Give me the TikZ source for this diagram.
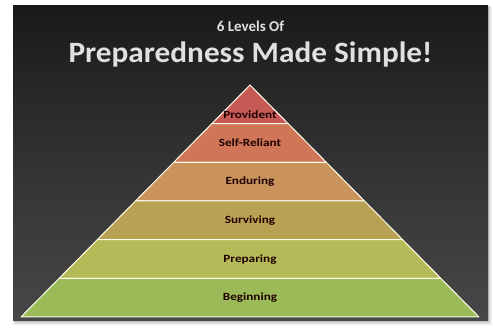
\documentclass[tikz,border=0pt]{standalone}
\usepackage{fontspec}
\setmainfont{Carlito}
\begin{document}
\begin{tikzpicture}[x=1pt,y=-1pt,
  band/.style={draw=white!92!yellow, line width=1pt, line join=round},
  lbl/.style={font=\bfseries\fontsize{11}{12}\selectfont, text=black!88!red, inner sep=0pt},
  ttl/.style={text=white!88!black, inner sep=0pt}]
\useasboundingbox (0,0) rectangle (493,331);
\fill[white] (0,0) rectangle (493,331);
% shadow
\foreach \i/\c in {4/6,3/10,2/16,1/24}{
  \fill[black!\c] (13-\i*0.5+2,6-\i*0.5+2) rectangle (488+\i,321+\i);
}
% panel
\shade[top color=black!90, bottom color=black!72, middle color=black!80] (13,6) rectangle (488,321);
% title
\node[ttl, font=\bfseries\fontsize{15}{16}\selectfont] (t1) at (250.5,26) {6 Levels Of};
\node[ttl, font=\bfseries\fontsize{29.5}{30}\selectfont, anchor=base] (t2) at (250.5,62.3) {\scalebox{1.06}[1]{Preparedness Made Simple!}};
% pyramid coordinates
\coordinate (A) at (250,85);
\coordinate (L1) at (211.83,123.67); \coordinate (R1) at (288.17,123.67);
\coordinate (L2) at (173.67,162.33); \coordinate (R2) at (326.33,162.33);
\coordinate (L3) at (135.5,201);    \coordinate (R3) at (364.5,201);
\coordinate (L4) at (97.33,239.67); \coordinate (R4) at (402.67,239.67);
\coordinate (L5) at (59.17,278.33); \coordinate (R5) at (440.83,278.33);
\coordinate (L6) at (21,317);       \coordinate (R6) at (479,317);
\filldraw[band, fill={rgb,255:red,198;green,90;blue,85}] (A) -- (R1) -- (L1) -- cycle;
\filldraw[band, fill={rgb,255:red,207;green,117;blue,88}] (L1) -- (R1) -- (R2) -- (L2) -- cycle;
\filldraw[band, fill={rgb,255:red,201;green,147;blue,91}] (L2) -- (R2) -- (R3) -- (L3) -- cycle;
\filldraw[band, fill={rgb,255:red,185;green,161;blue,84}] (L3) -- (R3) -- (R4) -- (L4) -- cycle;
\filldraw[band, fill={rgb,255:red,181;green,186;blue,88}] (L4) -- (R4) -- (R5) -- (L5) -- cycle;
\filldraw[band, fill={rgb,255:red,155;green,187;blue,89}] (L5) -- (R5) -- (R6) -- (L6) -- cycle;
\node[lbl] (p1) at (250,115) {\scalebox{1.2}[1]{Provident}};
\node[lbl] (p2) at (250,143) {\scalebox{1.2}[1]{Self-Reliant}};
\node[lbl] (p3) at (250,182) {\scalebox{1.2}[1]{Enduring}};
\node[lbl] (p4) at (250,221) {\scalebox{1.2}[1]{Surviving}};
\node[lbl] (p5) at (250,260) {\scalebox{1.2}[1]{Preparing}};
\node[lbl] (p6) at (250,298) {\scalebox{1.2}[1]{Beginning}};
\end{tikzpicture}
\end{document}
